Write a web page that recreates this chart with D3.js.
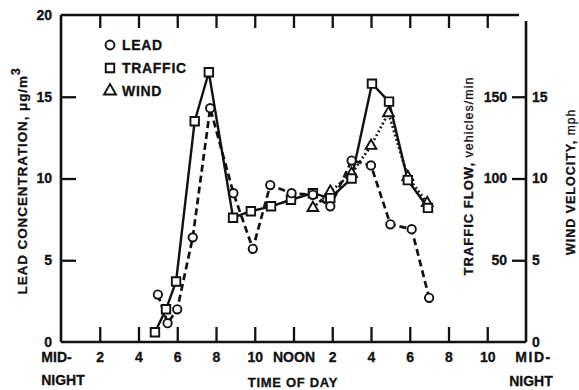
<!DOCTYPE html>
<html>
<head>
<meta charset="utf-8">
<script src="https://cdn.jsdelivr.net/npm/d3@7"></script>
<style>
  html, body { margin: 0; padding: 0; background: #fff; }
  svg { display: block; }
  text { font-family: "Liberation Sans", Arial, Helvetica, sans-serif; font-weight: bold; fill: #111; stroke: #111; stroke-width: 0.3; }
</style>
</head>
<body>
<svg id="chart" width="579" height="390"></svg>
<script>
// Hourly measurements through the day (hour of day, value)
const leadHours    = [5, 5.5, 6, 6.8, 7.7, 8.9, 9.9, 10.8, 11.9, 13, 13.9, 15, 16, 17, 18.1, 19];
const leadValues   = [2.9, 1.15, 2.0, 6.4, 14.3, 9.1, 5.7, 9.6, 9.1, 9.0, 8.3, 11.1, 10.8, 7.2, 6.9, 2.7];      // µg/m³

const trafficHours  = [4.85, 5.42, 5.94, 6.9, 7.63, 8.88, 9.8, 10.84, 11.87, 13, 13.9, 15, 16.05, 16.93, 17.9, 18.94];
const trafficValues = [6, 20, 37, 135, 165, 76, 80, 83, 87, 91, 88, 100, 158, 147, 99, 82];             // vehicles/min

const windHours  = [13, 13.9, 15, 16, 16.9, 17.9, 18.9];
const windValues = [8.2, 9.2, 10.3, 12.0, 14.0, 10.1, 8.5];                                      // mph

const hourTicks  = [0, 2, 4, 6, 8, 10, 12, 14, 16, 18, 20, 22, 24];
const hourLabels = ["MID-", "2", "4", "6", "8", "10", "NOON", "2", "4", "6", "8", "10", "MID-"];
const leadTicks    = [0, 5, 10, 15, 20];
const trafficTicks = [50, 100, 150];
const windTicks    = [0, 5, 10, 15];

const svg = d3.select("#chart");
const mLeft = 61, mRight = 526, mTop = 15, mBottom = 342;

const x = d3.scaleLinear().domain([0, 24]).range([mLeft, mRight]);
const yLead = d3.scaleLinear().domain([0, 20]).range([mBottom, mTop]);
const yTraffic = d3.scaleLinear().domain([0, 200]).range([mBottom, mTop]);
const yWind = d3.scaleLinear().domain([0, 20]).range([mBottom, mTop]);

const ink = "#111";

// Frame: left, bottom, right axis lines and the (shorter) top rule
const frame = svg.append("g").attr("stroke", ink).attr("stroke-width", 2.6).attr("fill", "none");
frame.append("line").attr("x1", mLeft).attr("x2", mLeft).attr("y1", mTop).attr("y2", mBottom);
frame.append("line").attr("x1", mLeft).attr("x2", mRight).attr("y1", mBottom).attr("y2", mBottom);
frame.append("line").attr("x1", mRight).attr("x2", mRight).attr("y1", mTop + 6).attr("y2", mBottom);
frame.append("line").attr("x1", mLeft).attr("x2", mRight - 7).attr("y1", mTop).attr("y2", mTop);

function styleAxis(g) {
  g.select(".domain").remove();
  g.selectAll(".tick line").attr("stroke", ink).attr("stroke-width", 2.3);
  g.selectAll(".tick text").attr("font-size", 14).attr("fill", ink)
    .style("font-family", '"Liberation Sans", Arial, sans-serif').style("font-weight", "bold");
}

// Bottom axis: ticks point up into the plot
const xAxis = svg.append("g").attr("transform", `translate(0,${mBottom})`)
  .call(d3.axisBottom(x).tickValues(hourTicks)
    .tickFormat((d, i) => hourLabels[i]).tickSize(-15).tickPadding(10))
  .call(styleAxis);
xAxis.selectAll(".tick").filter(d => d === 0 || d === 24).select("line").remove();
xAxis.selectAll(".tick").filter(d => d === 0).select("text").attr("dx", -5);
xAxis.selectAll(".tick").filter(d => d === 24).select("text").attr("dx", 7).attr("letter-spacing", 1.5);

// Top rule: ticks point down
svg.append("g").attr("transform", `translate(0,${mTop})`)
  .call(d3.axisTop(x).tickValues(hourTicks.slice(1, -1)).tickFormat("").tickSize(-13))
  .call(styleAxis);

// Left axis: lead concentration
const yAxisL = svg.append("g").attr("transform", `translate(${mLeft},0)`)
  .call(d3.axisLeft(yLead).tickValues(leadTicks).tickSize(-15).tickPadding(9))
  .call(styleAxis);
yAxisL.selectAll(".tick").filter(d => d === 0 || d === 20).select("line").remove();

// Right axis: traffic labels on the inside, wind labels outside
svg.append("g").attr("transform", `translate(${mRight},0)`)
  .call(d3.axisLeft(yTraffic).tickValues(trafficTicks).tickSize(14).tickPadding(5))
  .call(styleAxis);
svg.append("g").attr("transform", `translate(${mRight},0)`)
  .call(d3.axisRight(yWind).tickValues(windTicks).tickSize(0).tickPadding(6))
  .call(styleAxis);

// Second lines of the bottom labels and the axis title
svg.append("text").attr("x", 63).attr("y", 385).attr("text-anchor", "middle").attr("font-size", 14).text("NIGHT");
svg.append("text").attr("x", 531).attr("y", 386).attr("text-anchor", "middle").attr("font-size", 14).text("NIGHT");
svg.append("text").attr("x", 293).attr("y", 387).attr("text-anchor", "middle").attr("font-size", 13)
  .attr("letter-spacing", 0.7).text("TIME OF DAY");

// Axis titles
const leadTitle = svg.append("text").attr("transform", "translate(27,181) rotate(-90)")
  .attr("text-anchor", "middle").attr("font-size", 13.5).attr("letter-spacing", 0.9);
leadTitle.append("tspan").text("LEAD CONCENTRATION, \u03BCg/m");
leadTitle.append("tspan").attr("dy", -7).attr("font-size", 12).text("3");

const trafficTitle = svg.append("text").attr("transform", "translate(473,176) rotate(-90)")
  .attr("text-anchor", "middle").attr("font-size", 13).attr("letter-spacing", 1);
trafficTitle.append("tspan").text("TRAFFIC FLOW, ");
trafficTitle.append("tspan").attr("font-weight", "normal").attr("font-size", 12.5).text("vehicles/min");

const windTitle = svg.append("text").attr("transform", "translate(575,182) rotate(-90)")
  .attr("text-anchor", "middle").attr("font-size", 12.5).attr("letter-spacing", 1);
windTitle.append("tspan").text("WIND VELOCITY, ");
windTitle.append("tspan").attr("font-weight", "normal").attr("font-size", 12).text("mph");

// Series
const lead = leadHours.map((h, i) => [h, leadValues[i]]);
const traffic = trafficHours.map((h, i) => [h, trafficValues[i]]);
const wind = windHours.map((h, i) => [h, windValues[i]]);

const lineLead = d3.line().x(d => x(d[0])).y(d => yLead(d[1]));
const lineTraffic = d3.line().x(d => x(d[0])).y(d => yTraffic(d[1]));
const lineWind = d3.line().x(d => x(d[0])).y(d => yWind(d[1]));

svg.append("path").datum(wind).attr("d", lineWind)
  .attr("fill", "none").attr("stroke", ink).attr("stroke-width", 2.7).attr("stroke-dasharray", "1.8,2.6");
svg.append("path").datum(lead).attr("d", lineLead)
  .attr("fill", "none").attr("stroke", ink).attr("stroke-width", 2.7).attr("stroke-dasharray", "7,4");
svg.append("path").datum(traffic).attr("d", lineTraffic)
  .attr("fill", "none").attr("stroke", ink).attr("stroke-width", 2.4);

const sym = (type, size) => d3.symbol().type(type).size(size)();

function markers(data, sx, sy, type, size) {
  svg.append("g").selectAll("path").data(data).join("path")
    .attr("transform", d => `translate(${sx(d[0])},${sy(d[1])})`)
    .attr("d", sym(type, size))
    .attr("fill", "#fff").attr("stroke", ink).attr("stroke-width", 1.9);
}
markers(wind, x, yWind, d3.symbolTriangle, 50);
markers(traffic, x, yTraffic, d3.symbolSquare, 72);
markers(lead, x, yLead, d3.symbolCircle, 55);

// Legend
const legendItems = [
  { label: "LEAD", type: d3.symbolCircle, size: 62, y: 45 },
  { label: "TRAFFIC", type: d3.symbolSquare, size: 72, y: 68 },
  { label: "WIND", type: d3.symbolTriangle, size: 62, y: 91 }
];
const legend = svg.append("g");
legendItems.forEach(it => {
  legend.append("path").attr("transform", `translate(110,${it.y})`).attr("d", sym(it.type, it.size))
    .attr("fill", "#fff").attr("stroke", ink).attr("stroke-width", 1.9);
  legend.append("text").attr("x", 122).attr("y", it.y + 5).attr("font-size", 14)
    .attr("letter-spacing", 0.7).text(it.label);
});
</script>
</body>
</html>
